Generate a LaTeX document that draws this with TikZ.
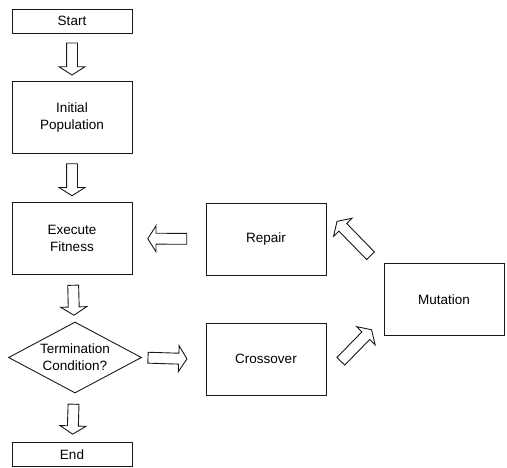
\documentclass[tikz,border=0pt]{standalone}
\usepackage{fontspec}
\setmainfont{Liberation Sans}
\usetikzlibrary{shapes.geometric,shapes.arrows}

\begin{document}
\begin{tikzpicture}[%
  x=1pt, y=-1pt,
  font=\fontsize{13.5}{17}\selectfont,
  every node/.style={draw=black!90, line width=0.9pt, align=center, inner sep=0pt},
  box/.style={rectangle, minimum width=120pt, minimum height=72pt},
  slim/.style={rectangle, minimum width=120pt, minimum height=24pt},
  test/.style={diamond, aspect=1.87, minimum width=133pt, minimum height=71pt},
  barrow/.style={to path={(\tikztostart) -- (\tikztotarget)
    node[midway, sloped, allow upside down, single arrow, fill=white,
      minimum height=#1, inner xsep=0pt, inner ysep=5pt,
      single arrow head extend=7.5pt, single arrow tip angle=115] {}}}]

  \useasboundingbox (0,0) rectangle (507,467);

  \node[slim] (start) at (72,21) {Start};
  \node[box] (init) at (72,117.5) {Initial\\Population};
  \node[box] (fit) at (72,238.5) {Execute\\Fitness};
  \node[test] (term) at (75,357.5) {Termination\\Condition?};
  \node[slim] (end) at (72,454.5) {End};
  \node[box] (repair) at (266,239) {Repair};
  \node[box] (cross) at (266,359) {Crossover};
  \node[box] (mut) at (444,299.5) {Mutation};

  \path (start) to[barrow=32pt] (init);
  \path (init) to[barrow=32pt] (fit);
  \path (fit) to[barrow=30pt] (term);
  \path (term) to[barrow=30pt] (end);
  \path (repair) to[barrow=39pt] (fit);
  \path (term.east) to[barrow=39pt] ([xshift=-16pt]cross.west);
  \path ([yshift=-6pt]mut.north west) to[barrow=48pt] ([yshift=-8pt]repair.north east);
  \path ([yshift=-17pt]cross.east) to[barrow=44pt] ([yshift=-18pt]mut.west);
\end{tikzpicture}
\end{document}
